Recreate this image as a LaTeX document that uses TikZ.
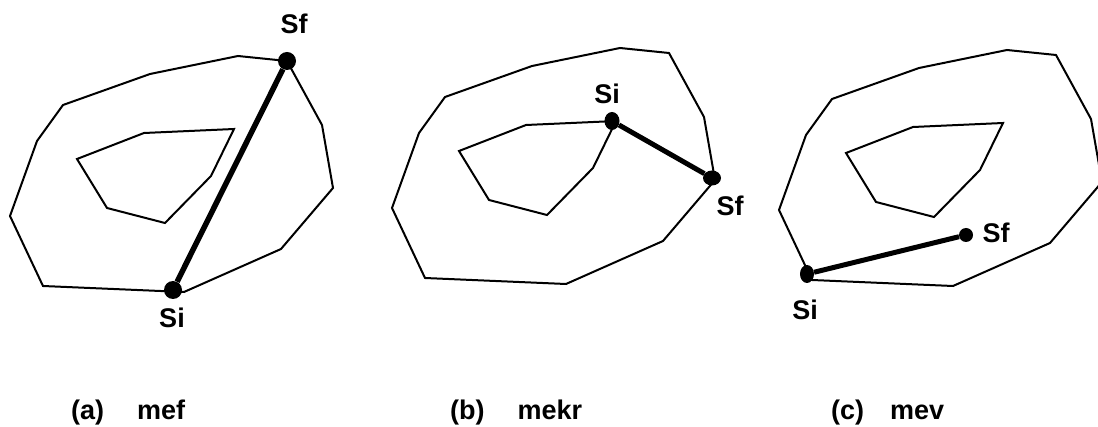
\documentclass[tikz,border=0pt]{standalone}
\usepackage{fontspec}
\setmainfont{Liberation Sans}
\usetikzlibrary{shapes.geometric}
\tikzset{
  outline/.style={line width=2pt,line join=miter},
  route/.style={line width=5pt},
  dot/.style={ellipse,fill=black,inner sep=0pt,minimum width=#1,minimum height=#1},
  dot/.default=18pt,
  lab/.style={font=\bfseries\fontsize{27}{30}\selectfont,inner sep=0pt},
  captext/.style={font=\bfseries\fontsize{27}{30}\selectfont,inner sep=0pt,anchor=base west}
}
\begin{document}
\begin{tikzpicture}[x=1pt,y=-1pt]
\useasboundingbox (0,0) rectangle (1098,427);
\foreach \dx/\dy in {0/0,382/-8,769/-6} {
  \begin{scope}[shift={(\dx,\dy)}]
  \draw [outline] (287,61) -- (322,125) -- (333,188) -- (281,249) -- (184,292) -- (43,286) -- (10,216) -- (37,141) -- (63,105) -- (150,74) -- (238,56) -- cycle;
  \draw [outline] (77,159) -- (144,133) -- (234,129) -- (211,176) -- (165,223) -- (107,208) -- cycle;
  \end{scope}
}
% (a)
\node [dot] (sfa) at (287,61) {};
\node [dot] (sia) at (173,290) {};
\draw [route,line width=5.5pt] (sia) -- (sfa);
\node [lab] (lsfa) at (294,24) {Sf};
\node [lab] (lsia) at (172,318) {Si};
% (b)
\node [dot=15pt,minimum height=18pt] (sib) at (612,121) {};
\node [dot=15pt,minimum width=18pt] (sfb) at (712,178) {};
\draw [route] (sib) -- (sfb);
\node [lab] (lsib) at (607,94) {Si};
\node [lab] (lsfb) at (730,206) {Sf};
% (c)
\node [dot=14pt,minimum height=18pt] (sic) at (807,274) {};
\node [dot=14pt] (sfc) at (966,235) {};
\draw [route] (sic) -- (sfc);
\node [lab] (lsic) at (805,310) {Si};
\node [lab] (lsfc) at (996,233) {Sf};
% captions
\node [captext] (capa) at (71,420) {(a)\hspace{33pt}mef};
\node [captext] (capb) at (450,420) {(b)\hspace{33pt}mekr};
\node [captext] (capc) at (831,420) {(c)\hspace{26pt}mev};
\end{tikzpicture}
\end{document}
